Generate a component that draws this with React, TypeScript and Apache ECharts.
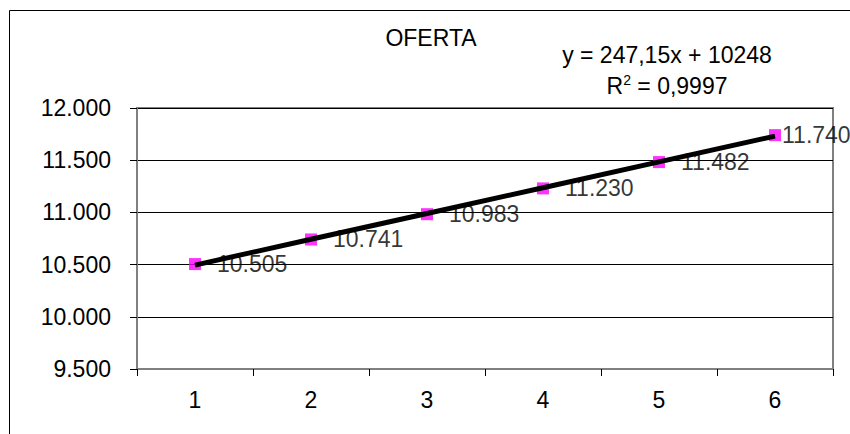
import React, { useEffect, useRef } from "react";
import * as echarts from "echarts";

const categories = ["1", "2", "3", "4", "5", "6"];
const oferta = [10505, 10741, 10983, 11230, 11482, 11740];
const yTicks = { min: 9500, max: 12000, interval: 500 };
// linear trend line coefficients, as shown in its equation label
const trendSlope = 247.15;
const trendIntercept = 10248;
const trendEquation = "y = 247,15x + 10248";
const trendR2 = "0,9997";
const chartTitle = "OFERTA";

const FONT = "'Liberation Sans', Arial, sans-serif";
const FS = 23;

const fmtThousands = (v: number) =>
  String(Math.round(v)).replace(/\B(?=(\d{3})+(?!\d))/g, ".");

export default function App() {
  const ref = useRef<HTMLDivElement>(null);

  useEffect(() => {
    document.body.style.margin = "0";
    const chart = echarts.init(ref.current!, null, { renderer: "svg" });
    const trend = categories.map((_, i) => trendIntercept + trendSlope * (i + 1));
    const last = oferta.length - 1;
    // the last label sits tight against its marker so it stays inside the frame
    const points = oferta.map((v, i) =>
      i === last ? { value: v, label: { distance: 1 } } : v
    );

    chart.setOption({
      animation: false,
      backgroundColor: "#ffffff",
      textStyle: { fontFamily: FONT },
      grid: {
        left: 137,
        top: 108,
        right: 17,
        bottom: 65,
        show: true,
        borderColor: "#808080",
        borderWidth: 2,
      },
      graphic: [
        {
          type: "rect",
          shape: { x: 9.5, y: 10.5, width: 860, height: 440 },
          style: { fill: "none", stroke: "#000", lineWidth: 1 },
          z: 0,
        },
        {
          type: "text",
          x: 431,
          y: 38,
          style: {
            text: chartTitle,
            font: `${FS}px ${FONT}`,
            fill: "#000",
            align: "center",
            verticalAlign: "middle",
          },
        },
        {
          type: "text",
          x: 667,
          y: 55,
          style: {
            text: trendEquation,
            font: `${FS}px ${FONT}`,
            fill: "#000",
            align: "center",
            verticalAlign: "middle",
          },
        },
        {
          type: "text",
          x: 667,
          y: 86,
          style: {
            text: `{a|R}{s|2}{a| = ${trendR2}}`,
            align: "center",
            verticalAlign: "middle",
            rich: {
              a: { fontSize: FS, fontFamily: FONT, color: "#000", lineHeight: 27 },
              s: { fontSize: 14, fontFamily: FONT, color: "#000", verticalAlign: "top", lineHeight: 27 },
            },
          },
        },
      ],
      xAxis: {
        type: "category",
        data: categories,
        boundaryGap: true,
        axisLine: { lineStyle: { color: "#808080", width: 2 } },
        axisTick: { show: true, length: 7, lineStyle: { color: "#000" } },
        axisLabel: { fontSize: FS, color: "#000", margin: 19, fontFamily: FONT },
        splitLine: { show: false },
      },
      yAxis: {
        type: "value",
        min: yTicks.min,
        max: yTicks.max,
        interval: yTicks.interval,
        axisLine: { show: true, lineStyle: { color: "#808080", width: 2 } },
        axisTick: { show: true, length: 7, lineStyle: { color: "#000" } },
        axisLabel: {
          fontSize: FS,
          color: "#000",
          margin: 26,
          fontFamily: FONT,
          formatter: (v: number) => fmtThousands(v),
        },
        splitLine: { show: true, lineStyle: { color: "#000", width: 1 } },
      },
      series: [
        {
          name: chartTitle,
          type: "scatter",
          data: points,
          symbol: "rect",
          symbolSize: 12,
          itemStyle: { color: "#FF00FF" },
          label: {
            show: true,
            position: "right",
            distance: 16,
            fontSize: FS,
            color: "#000",
            fontFamily: FONT,
            formatter: (p: any) => fmtThousands(p.value),
          },
          z: 2,
        },
        {
          name: "Lineal",
          type: "line",
          data: trend,
          symbol: "none",
          lineStyle: { color: "#000", width: 5 },
          z: 3,
        },
      ],
    });

    return () => chart.dispose();
  }, []);

  return <div ref={ref} style={{ width: 850, height: 434 }} />;
}
